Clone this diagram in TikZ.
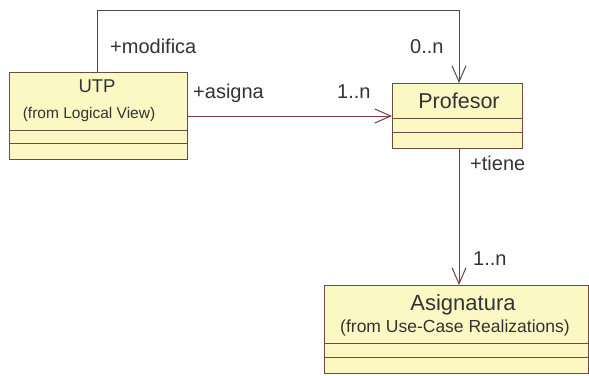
\documentclass[tikz,border=0pt]{standalone}
\usepackage{fontspec}
\setmainfont{Liberation Sans}
\usetikzlibrary{arrows.meta}
\definecolor{classfill}{HTML}{FCF8C4}
\definecolor{classline}{HTML}{6E4A44}
\definecolor{assoc}{HTML}{7A3848}
\newcommand{\fsz}[1]{\fontsize{#1}{#1}\selectfont}
\begin{document}
\begin{tikzpicture}[x=1pt,y=-1pt,
  classbox/.style={draw=classline,fill=classfill,line width=0.9pt},
  sep/.style={draw=classline,line width=0.9pt},
  assocline/.style={draw=assoc,line width=0.9pt},
  nav/.style={-{Straight Barb[length=16pt,width=14pt,line width=1pt]}},
  lbl/.style={font=\fsz{20},text=black!80,inner sep=0pt,anchor=base west},
  txt/.style={text=black!80,inner sep=0pt,anchor=base}]
\useasboundingbox (0,0) rectangle (589,375);

% UTP class
\path[classbox] (9,72) rectangle (187,159);
\draw[sep] (9,130) -- (187,130);
\draw[sep] (9,143) -- (187,143);
\node[txt,font=\fsz{18.5}] (utp) at (97,92) {UTP};
\node[txt,font=\fsz{15.5}] (utpsub) at (89,118) {(from Logical View)};

% Profesor class
\path[classbox] (392,83) rectangle (522,148);
\draw[sep] (392,118) -- (522,118);
\draw[sep] (392,132) -- (522,132);
\node[txt,font=\fsz{21.5}] (prof) at (459,108) {Profesor};

% Asignatura class
\path[classbox] (324,285) rectangle (588,373);
\draw[sep] (324,343) -- (588,343);
\draw[sep] (324,357) -- (588,357);
\node[txt,font=\fsz{22}] (asig) at (463,310) {Asignatura};
\node[txt,font=\fsz{17.5}] (asigsub) at (455,332) {(from Use-Case Realizations)};

% anchor points on the class borders
\coordinate (utpTop) at (97,72);
\coordinate (utpRight) at (187,116);
\coordinate (profTop) at (459,83);
\coordinate (profLeft) at (392,116);
\coordinate (profBottom) at (459,148);
\coordinate (asigTop) at (459,285);
\coordinate (c1) at (97,10);
\coordinate (c2) at (459,10);

% associations
\draw[assocline,draw=black!70,nav] (utpTop) -- (c1) -- (c2) -- (profTop);
\draw[assocline,nav] (utpRight) -- (profLeft);
\draw[assocline,nav] (profBottom) -- (asigTop);

% role names and multiplicities
\node[lbl] (modifica) at (110,53) {+modifica};
\node[lbl] (mult0n) at (410,53) {0..n};
\node[lbl] (asigna) at (193,98) {+asigna};
\node[lbl] (mult1n) at (337,98) {1..n};
\node[lbl] (tiene) at (470,170) {+tiene};
\node[lbl] (mult1nb) at (473,265) {1..n};
\end{tikzpicture}
\end{document}
